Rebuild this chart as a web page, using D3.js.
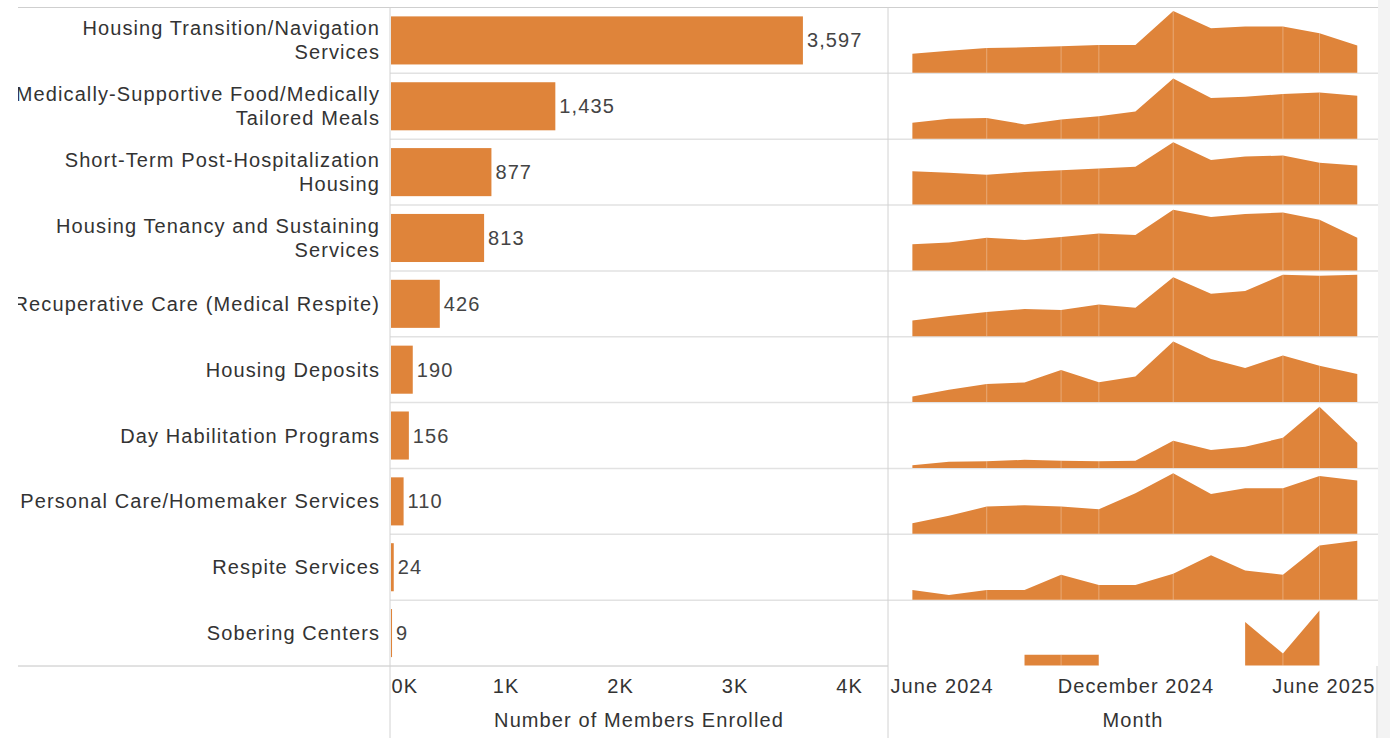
<!DOCTYPE html>
<html>
<head>
<meta charset="utf-8">
<script src="https://cdn.jsdelivr.net/npm/d3@7"></script>
<style>
  html, body { margin: 0; padding: 0; background: #fff; }
  svg { display: block; }
  text { font-family: "Liberation Sans", Arial, sans-serif; font-size: 20px; letter-spacing: 1.1px; }
</style>
</head>
<body>
<svg id="chart" width="1390" height="738"></svg>
<script>
// ---------------- data ----------------
const categories = [
  "Housing Transition/Navigation\nServices",
  "Medically-Supportive Food/Medically\nTailored Meals",
  "Short-Term Post-Hospitalization\nHousing",
  "Housing Tenancy and Sustaining\nServices",
  "Recuperative Care (Medical Respite)",
  "Housing Deposits",
  "Day Habilitation Programs",
  "Personal Care/Homemaker Services",
  "Respite Services",
  "Sobering Centers"
];
const membersEnrolled = [3597, 1435, 877, 813, 426, 190, 156, 110, 24, 9];

const months = ["2024-06","2024-07","2024-08","2024-09","2024-10","2024-11","2024-12",
                "2025-01","2025-02","2025-03","2025-04","2025-05","2025-06"];

// monthly trend, as % of each row's own (independent) axis
const housingTransition    = [30, 34.7, 38.9, 39.9, 41.5, 43.5, 43.5, 96.9, 70, 72.5, 72.5, 62.2, 43];
const medicallyTailored    = [24.9, 31.1, 32.6, 22.3, 30.1, 35.2, 42.5, 94.3, 63.7, 65.8, 69.9, 72.5, 67.4];
const postHospitalization  = [52.3, 49.7, 46.6, 50.8, 53.9, 56.5, 59.1, 97.4, 69.9, 75.1, 76.7, 65.3, 61.1];
const tenancySustaining    = [41, 43.6, 51.3, 47.7, 52.3, 57.9, 55.4, 94.9, 83.6, 88.2, 90.8, 79.5, 51.3];
const recuperativeCare     = [24.6, 31.8, 37.9, 42.6, 41, 49.7, 44.6, 92.3, 66.7, 70.8, 96.4, 94.9, 96.4];
const housingDeposits      = [8.8, 19.2, 28.5, 30.6, 50.3, 31.1, 39.9, 94.8, 67.4, 53.4, 73.1, 57, 44];
const dayHabilitation      = [4.1, 9.7, 10.3, 12.8, 11.3, 10.3, 11.3, 42.6, 28.2, 33.3, 47.2, 95.9, 39.5];
const personalCare         = [16.7, 28.1, 42.7, 44.8, 42.7, 38.5, 63.5, 94.8, 62.5, 71.4, 71.4, 90.6, 83.3];
const respiteServices      = [15.2, 7.1, 15.2, 15.2, 39.1, 22.8, 22.8, 40.6, 69.5, 45.7, 39.1, 84.8, 92.4];
const soberingCenters      = [null, null, null, 17, 17, 17, null, null, null, 68, 18.7, 86, null];

const trendSeries = [housingTransition, medicallyTailored, postHospitalization, tenancySustaining,
  recuperativeCare, housingDeposits, dayHabilitation, personalCare, respiteServices, soberingCenters];

const barTicks = [0, 1000, 2000, 3000, 4000];
const monthTicks = ["2024-06", "2024-12", "2025-06"];
const seamMonths = ["2024-08", "2024-10", "2024-11", "2025-01", "2025-04", "2025-05"];

// ---------------- layout ----------------
const W = 1390, H = 738;
const ORANGE = "#df843a";
const labelLeft = 18, labelRight = 380;
const barLeft = 390, barRight = 888;
const sparkLeft = 888, sparkRight = 1378;
const plotTop = 7.5, plotBottom = 666;

const svg = d3.select("#chart");
const parseMonth = d3.utcParse("%Y-%m");

// right grey strip
svg.append("rect").attr("x", sparkRight).attr("y", 0).attr("width", W - sparkRight).attr("height", H).attr("fill", "#f3f3f3");

const rowScale = d3.scaleBand().domain(categories).range([plotTop, plotBottom]).paddingInner(0).paddingOuter(0);
const barBand = d3.scaleBand().domain(categories).range([plotTop, plotBottom]).paddingInner(0.27).paddingOuter(0.135);
const xBar = d3.scaleLinear().domain([0, 4340]).range([barLeft + 1, barRight]);
const xTime = d3.scaleUtc().domain([new Date(Date.UTC(2024, 4, 12)), new Date(Date.UTC(2025, 5, 18))]).range([sparkLeft, sparkRight]);

// row separators
const step = rowScale.step();
categories.forEach((c, i) => {
  if (i === 0) return;
  const y = rowScale(c);
  svg.append("line").attr("x1", barLeft).attr("x2", sparkRight).attr("y1", y).attr("y2", y)
    .attr("stroke", "#e2e2e2").attr("stroke-width", 1.5);
});

// left labels (clipped)
const defs = svg.append("defs");
defs.append("clipPath").attr("id", "labelClip").append("rect")
  .attr("x", labelLeft).attr("y", 0).attr("width", labelRight + 10 - labelLeft).attr("height", H);
const labelG = svg.append("g").attr("clip-path", "url(#labelClip)");
categories.forEach(c => {
  const lines = c.split("\n");
  const cy = rowScale(c) + step / 2;
  const t = labelG.append("text").attr("text-anchor", "end").attr("fill", "#333");
  lines.forEach((ln, j) => {
    const off = (j - (lines.length - 1) / 2) * 24;
    t.append("tspan").attr("x", labelRight).attr("y", cy + off).attr("dy", "0.35em").text(ln);
  });
});

// bars
const barData = categories.map((c, i) => ({ c, v: membersEnrolled[i] }));
svg.append("g").selectAll("rect").data(barData).join("rect")
  .attr("x", xBar(0)).attr("y", d => barBand(d.c))
  .attr("width", d => Math.max(0.6, xBar(d.v) - xBar(0)))
  .attr("height", barBand.bandwidth())
  .attr("fill", ORANGE);
svg.append("g").selectAll("text").data(barData).join("text")
  .attr("x", d => xBar(d.v) + 4).attr("y", d => rowScale(d.c) + step / 2).attr("dy", "0.35em")
  .attr("fill", "#444").text(d => d3.format(",")(d.v));

// sparklines
const monthDates = months.map(parseMonth);
categories.forEach((c, i) => {
  const y0 = rowScale(c);
  const yS = d3.scaleLinear().domain([0, 100]).range([y0 + step - 0.5, y0 + 1.5]);
  const pts = monthDates.map((d, k) => ({ d, v: trendSeries[i][k] }));
  const area = d3.area().defined(p => p.v != null)
    .x(p => xTime(p.d)).y0(yS(0)).y1(p => yS(p.v));
  const id = "spark" + i;
  defs.append("clipPath").attr("id", id).append("path").attr("d", area(pts));
  svg.append("path").attr("d", area(pts)).attr("fill", ORANGE);
  svg.append("g").attr("clip-path", `url(#${id})`).selectAll("line")
    .data(seamMonths.map(parseMonth)).join("line")
    .attr("x1", d => xTime(d)).attr("x2", d => xTime(d))
    .attr("y1", y0).attr("y2", y0 + step)
    .attr("stroke", "rgba(255,255,255,0.3)").attr("stroke-width", 1);
});

// frame lines
svg.append("line").attr("x1", labelLeft).attr("x2", sparkRight).attr("y1", plotTop).attr("y2", plotTop).attr("stroke", "#cfcfcf");
svg.append("line").attr("x1", labelLeft).attr("x2", barRight).attr("y1", plotBottom).attr("y2", plotBottom).attr("stroke", "#c4c4c4");
svg.append("line").attr("x1", barLeft).attr("x2", barLeft).attr("y1", plotTop).attr("y2", H).attr("stroke", "#d2d2d2");
svg.append("line").attr("x1", barRight).attr("x2", barRight).attr("y1", plotTop).attr("y2", H).attr("stroke", "#d2d2d2");
svg.append("line").attr("x1", sparkRight - 1).attr("x2", sparkRight - 1).attr("y1", plotBottom).attr("y2", H).attr("stroke", "#d2d2d2");

// axes
const barAxis = d3.axisBottom(xBar).tickValues(barTicks).tickSize(0).tickPadding(13)
  .tickFormat(d => d / 1000 + "K");
const gBarAxis = svg.append("g").attr("transform", `translate(0,${plotBottom})`).call(barAxis);
gBarAxis.select(".domain").remove();
gBarAxis.selectAll("text").attr("fill", "#333").style("font-size", "20px")
  .style("font-family", "'Liberation Sans', Arial, sans-serif")
  .attr("text-anchor", (d, k) => k === 0 ? "start" : "middle");

const timeAxis = d3.axisBottom(xTime).tickValues(monthTicks.map(parseMonth)).tickSize(0).tickPadding(13)
  .tickFormat(d3.utcFormat("%B %Y"));
const gTimeAxis = svg.append("g").attr("transform", `translate(0,${plotBottom})`).call(timeAxis);
gTimeAxis.select(".domain").remove();
gTimeAxis.selectAll(".tick").each(function (d, k, nodes) {
  const t = d3.select(this).select("text").attr("fill", "#333").style("font-size", "20px")
    .style("font-family", "'Liberation Sans', Arial, sans-serif");
  const x = xTime(d);
  if (k === 0) t.attr("text-anchor", "start").attr("x", sparkLeft + 2 - x);
  if (k === nodes.length - 1) t.attr("text-anchor", "end").attr("x", sparkRight - 3 - x);
});

svg.append("text").attr("x", (barLeft + barRight) / 2).attr("y", 720).attr("dy", "0.35em")
  .attr("text-anchor", "middle").attr("fill", "#333").text("Number of Members Enrolled");
svg.append("text").attr("x", (sparkLeft + sparkRight) / 2).attr("y", 720).attr("dy", "0.35em")
  .attr("text-anchor", "middle").attr("fill", "#333").text("Month");
</script>
</body>
</html>
